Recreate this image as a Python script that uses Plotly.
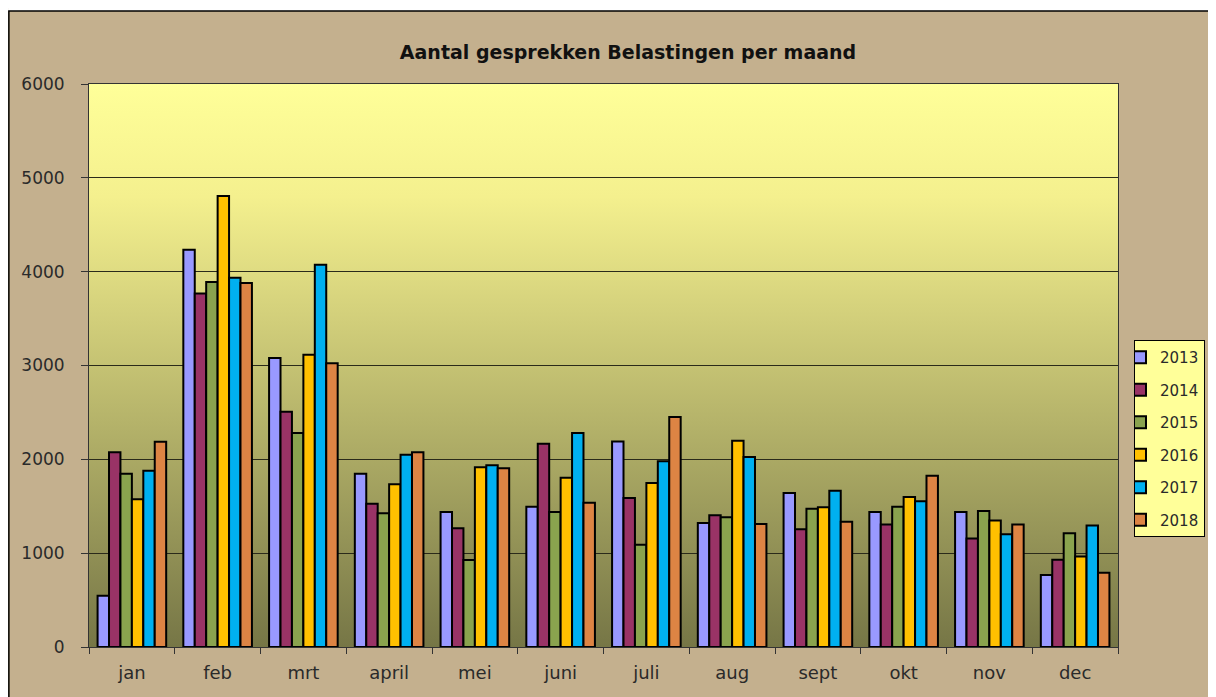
import base64
import plotly.graph_objects as go

# data
maanden = ["jan", "feb", "mrt", "april", "mei", "juni", "juli", "aug", "sept", "okt", "nov", "dec"]
jaren = ["2013", "2014", "2015", "2016", "2017", "2018"]

v2013 = [545, 4234, 3080, 1847, 1439, 1495, 2189, 1322, 1641, 1439, 1439, 767]
v2014 = [2075, 3766, 2508, 1527, 1266, 2167, 1588, 1404, 1255, 1305, 1156, 930]
v2015 = [1847, 3890, 2281, 1425, 927, 1439, 1089, 1383, 1474, 1495, 1450, 1213]
v2016 = [1574, 4807, 3115, 1734, 1916, 1803, 1747, 2199, 1489, 1598, 1347, 965]
v2017 = [1879, 3936, 4074, 2050, 1937, 2280, 1980, 2026, 1665, 1552, 1202, 1294]
v2018 = [2188, 3879, 3023, 2075, 1905, 1538, 2450, 1312, 1336, 1824, 1305, 792]

waarden = [v2013, v2014, v2015, v2016, v2017, v2018]
kleuren = ["#9999FF", "#993366", "#8AA34E", "#FFC000", "#00B0F0", "#DD8444"]

# the page body has an 8px margin, so the figure starts at (8, 8)
OFF = 8
W, H = 1216 - OFF, 697 - OFF
ML, MR, MT, MB = 89 - OFF, 97, 84 - OFF, 50
PW, PH = W - ML - MR, H - MT - MB
TAN = "#C4B08E"


# page pixel -> paper coordinate
def px_x(x):
    return (x - OFF - ML) / PW


def px_y(y):
    return (OFF + H - MB - y) / PH


# vertical gradient for the plot area (light yellow -> olive)
svg = (
    '<svg xmlns="http://www.w3.org/2000/svg" width="100" height="100" preserveAspectRatio="none">'
    '<defs><linearGradient id="g" x1="0" y1="0" x2="0" y2="1">'
    '<stop offset="0" stop-color="#FFFF99"/>'
    '<stop offset="0.2" stop-color="#F4F08E"/>'
    '<stop offset="1" stop-color="#767646"/>'
    '</linearGradient></defs>'
    '<rect width="100" height="100" fill="url(#g)"/></svg>'
)
bg_src = "data:image/svg+xml;base64," + base64.b64encode(svg.encode()).decode()

fig = go.Figure()
for jaar, vals, kleur in zip(jaren, waarden, kleuren):
    fig.add_trace(go.Bar(
        x=maanden, y=vals, name=jaar, legendgroup=jaar,
        marker=dict(color=kleur, line=dict(color="black", width=2)),
    ))

fig.update_layout(
    width=W, height=H,
    margin=dict(l=ML, r=MR, t=MT, b=MB),
    paper_bgcolor=TAN,
    plot_bgcolor="rgba(0,0,0,0)",
    font=dict(family="DejaVu Sans", size=17, color="#2a2a2a"),
    barmode="group", bargap=0.2, bargroupgap=0,
    title=dict(text="<b>Aantal gesprekken Belastingen per maand</b>",
               font=dict(size=19, color="#111"),
               x=(628 - OFF) / W, xref="container", xanchor="center",
               y=1 - (52 - OFF) / H, yref="container", yanchor="middle"),
    legend=dict(x=px_x(1134), y=px_y(340), xanchor="left", yanchor="top",
                bgcolor="#FFFF99", bordercolor="black", borderwidth=1,
                font=dict(size=15, color="#2a2a2a"), tracegroupgap=10,
                indentation=-15, itemwidth=30),
    images=[dict(source=bg_src, xref="paper", yref="paper", x=0, y=1,
                 sizex=1, sizey=1, sizing="stretch", layer="below")],
    shapes=[
        dict(type="rect", xref="paper", yref="paper", layer="above",
             x0=px_x(OFF), x1=px_x(1216), y0=px_y(11), y1=px_y(OFF),
             fillcolor="white", line=dict(width=0)),
        dict(type="path", xref="paper", yref="paper", layer="above",
             path=f"M {px_x(8.8)},{px_y(697)} L {px_x(8.8)},{px_y(11)} L {px_x(1216)},{px_y(11)}",
             line=dict(color="black", width=1.5)),
    ],
)

fig.update_yaxes(range=[0, 6000], dtick=1000, showgrid=True, gridcolor="#2a2a1a",
                 gridwidth=1, showline=True, linecolor="#333", linewidth=1,
                 mirror=True, ticks="outside", ticklen=7, tickcolor="#333",
                 ticklabelstandoff=13, zeroline=False, fixedrange=True)
fig.update_xaxes(type="category", tickson="boundaries", ticks="outside", ticklen=6,
                 tickcolor="#333", showline=True, linecolor="#333", linewidth=1,
                 tickfont=dict(size=18), ticklabelstandoff=9,
                 mirror=True, showgrid=False, fixedrange=True)

fig.write_html("out.html")
